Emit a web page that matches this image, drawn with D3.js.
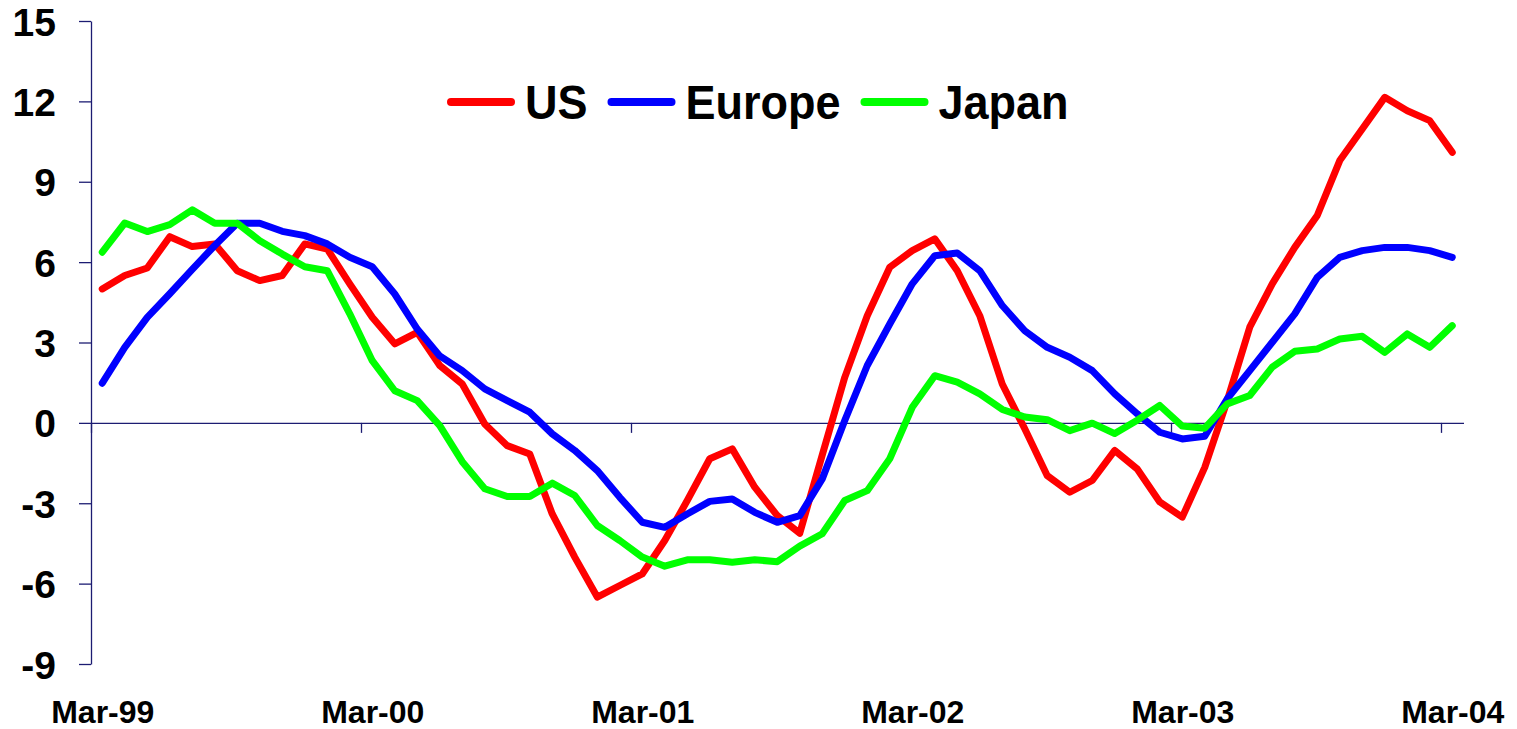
<!DOCTYPE html>
<html>
<head>
<meta charset="utf-8">
<script src="https://cdn.jsdelivr.net/npm/d3@7"></script>
<style>
  html, body { margin: 0; padding: 0; background: #fff; }
  svg text { font-family: "Liberation Sans", Arial, sans-serif; font-weight: bold; fill: #000; }
</style>
</head>
<body>
<svg id="chart" width="1517" height="729"></svg>
<script>
// Monthly observations, Mar-1999 .. Mar-2004
const months = d3.timeMonth.range(new Date(1999, 2, 1), new Date(2004, 3, 1));
const tickLabels = ["Mar-99", "Mar-00", "Mar-01", "Mar-02", "Mar-03", "Mar-04"];
const yTicks = [-9, -6, -3, 0, 3, 6, 9, 12, 15];

const us = [5.0, 5.5, 5.78, 6.95, 6.58, 6.68, 5.68, 5.31, 5.5, 6.68, 6.49, 5.19,
  3.94, 2.95, 3.38, 2.14, 1.45, -0.04, -0.85, -1.16, -3.4, -5.01, -6.5, -6.07,
  -5.64, -4.39, -2.9, -1.34, -0.97, -2.4, -3.46, -4.12, -1.2, 1.7, 4.0, 5.81,
  6.43, 6.87, 5.68, 4.0, 1.45, -0.22, -1.97, -2.59, -2.15, -1.03, -1.72, -2.95,
  -3.52, -1.66, 0.83, 3.57, 5.19, 6.55, 7.74, 9.79, 10.97, 12.15, 11.65, 11.28, 10.1];

const europe = [1.48, 2.82, 3.94, 4.82, 5.73, 6.62, 7.45, 7.45, 7.15, 6.99, 6.68, 6.18,
  5.83, 4.81, 3.5, 2.5, 1.95, 1.27, 0.83, 0.4, -0.41, -1.03, -1.78, -2.78,
  -3.71, -3.9, -3.4, -2.93, -2.84, -3.34, -3.71, -3.46, -2.09, 0.09, 2.14, 3.69,
  5.19, 6.24, 6.34, 5.68, 4.38, 3.44, 2.82, 2.45, 1.95, 1.08, 0.34, -0.35,
  -0.6, -0.5, 0.9, 1.95, 3.01, 4.07, 5.43, 6.18, 6.43, 6.55, 6.55, 6.43, 6.18];

const japan = [6.37, 7.46, 7.14, 7.4, 7.95, 7.45, 7.45, 6.8, 6.3, 5.83, 5.68, 4.07,
  2.32, 1.2, 0.83, -0.1, -1.45, -2.46, -2.75, -2.75, -2.25, -2.71, -3.83, -4.39,
  -5.01, -5.35, -5.11, -5.11, -5.2, -5.11, -5.18, -4.6, -4.14, -2.9, -2.53, -1.34,
  0.58, 1.76, 1.52, 1.08, 0.5, 0.22, 0.12, -0.29, -0.01, -0.4, 0.1, 0.65,
  -0.12, -0.2, 0.71, 1.02, 2.08, 2.67, 2.76, 3.13, 3.23, 2.63, 3.32, 2.82, 3.63];

const seriesNames = ["US", "Europe", "Japan"];
const seriesColors = ["#ff0000", "#0000ff", "#00ff00"];
const seriesValues = [us, europe, japan];

const axisColor = "#1c1c72";
const plotLeft = 91, plotRight = 1463.5, plotTop = 21, plotBottom = 664;

const svg = d3.select("#chart");
const idx = d3.range(months.length);

// point positions sit in the middle of each monthly category
const x = d3.scalePoint().domain(idx).range([plotLeft, plotRight]).padding(0.5);
// category boundaries, used for the yearly tick marks
const xEdge = d3.scaleLinear().domain([0, months.length]).range([plotLeft, plotRight]);
const y = d3.scaleLinear().domain([-9, 15]).range([plotBottom, plotTop]);

// y axis (plain hyphen for negative numbers)
const yAxis = svg.append("g")
  .attr("transform", `translate(${plotLeft},0)`)
  .call(d3.axisLeft(y).tickValues(yTicks).tickSize(12).tickPadding(23).tickSizeOuter(0)
    .tickFormat(d => String(d)));
yAxis.select(".domain").attr("stroke", axisColor).attr("stroke-width", 1.3);
yAxis.selectAll(".tick line").attr("stroke", axisColor).attr("stroke-width", 1.3);
yAxis.selectAll(".tick text").style("font-size", "39px").attr("dy", "0.36em");

// x axis line at zero with yearly tick marks
const yearIdx = d3.range(0, months.length, 12);
const xAxis = svg.append("g")
  .attr("transform", `translate(0,${y(0)})`)
  .call(d3.axisBottom(xEdge).tickValues(yearIdx).tickSize(10).tickSizeOuter(0).tickFormat(""));
xAxis.select(".domain").attr("stroke", axisColor).attr("stroke-width", 1.3);
xAxis.selectAll(".tick line").attr("stroke", axisColor).attr("stroke-width", 1.3);

// year labels below the plot, centred on March of each year
const labelAxis = svg.append("g")
  .attr("transform", "translate(0,700)")
  .call(d3.axisBottom(x).tickValues(yearIdx).tickSize(0).tickPadding(0)
    .tickFormat((d, i) => tickLabels[i]));
labelAxis.select(".domain").remove();
labelAxis.selectAll(".tick text").style("font-size", "32px");

// series lines
const line = d3.line().x((d, i) => x(i)).y(d => y(d));
seriesValues.forEach((vals, s) => {
  svg.append("path")
    .datum(vals)
    .attr("fill", "none")
    .attr("stroke", seriesColors[s])
    .attr("stroke-width", 7)
    .attr("stroke-linejoin", "round")
    .attr("stroke-linecap", "round")
    .attr("d", line);
});

// legend
const legend = svg.append("g").attr("transform", "translate(447,119)");
let cx = 0;
seriesNames.forEach((name, s) => {
  legend.append("line")
    .attr("x1", cx + 4).attr("x2", cx + 64)
    .attr("y1", -17).attr("y2", -17)
    .attr("stroke", seriesColors[s])
    .attr("stroke-width", 8)
    .attr("stroke-linecap", "round");
  const t = legend.append("text")
    .attr("transform", `translate(${cx + 78},0) scale(1,1.06)`)
    .style("font-size", "45px")
    .text(name);
  cx += 78 + t.node().getComputedTextLength() + 20;
});
</script>
</body>
</html>
